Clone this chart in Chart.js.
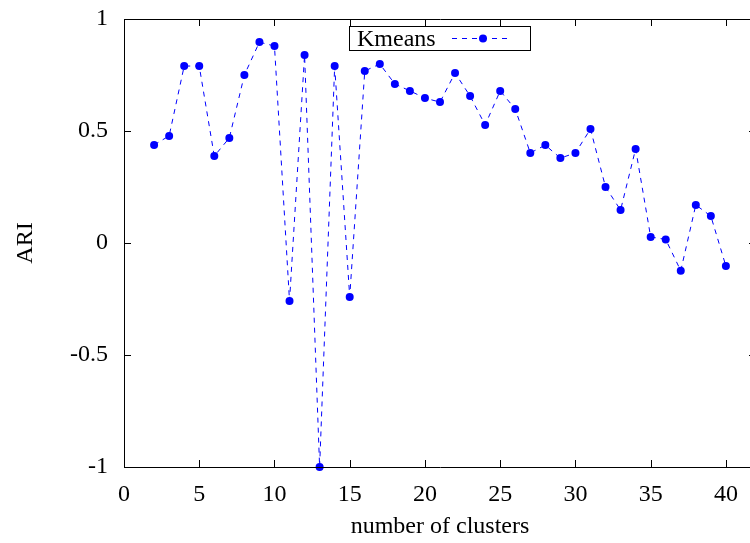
<!DOCTYPE html>
<html>
<head>
<meta charset="utf-8">
<script src="https://cdn.jsdelivr.net/npm/chart.js@4/dist/chart.umd.min.js"></script>
<style>
  html, body { margin: 0; padding: 0; background: #fff; overflow: hidden; }
  #wrap { width: 770px; height: 543px; }
</style>
</head>
<body>
<div id="wrap"><canvas id="c" width="770" height="543"></canvas></div>
<script>
// Number of clusters evaluated
const clusters = [2, 3, 4, 5, 6, 7, 8, 9, 10, 11, 12, 13, 14, 15, 16, 17, 18, 19, 20, 21,
                  22, 23, 24, 25, 26, 27, 28, 29, 30, 31, 32, 33, 34, 35, 36, 37, 38, 39, 40];
// Adjusted Rand Index for k-means at each cluster count
const kmeansARI = [0.438, 0.478, 0.79, 0.79, 0.388, 0.469, 0.75, 0.897, 0.879, -0.259,
                   0.839, -1.0, 0.79, -0.241, 0.768, 0.799, 0.71, 0.679, 0.647, 0.629,
                   0.759, 0.656, 0.527, 0.679, 0.598, 0.402, 0.437, 0.379, 0.402, 0.509,
                   0.25, 0.147, 0.42, 0.027, 0.016, -0.124, 0.17, 0.12, -0.103];
const xTicks = [0, 5, 10, 15, 20, 25, 30, 35, 40];
const yTicks = [-1, -0.5, 0, 0.5, 1];

const SERIF = '"Liberation Serif", "DejaVu Serif", serif';
const BLUE = '#0000ff';
const FONT_SIZE = 24;

// Frame with inward ticks on all four sides, drawn from the chart's scales
const framePlugin = {
  id: 'frame',
  afterDraw(chart) {
    const { ctx, chartArea: a, scales } = chart;
    ctx.save();
    ctx.strokeStyle = '#000';
    ctx.lineWidth = 1;
    ctx.beginPath();
    ctx.rect(Math.round(a.left) + 0.5, Math.round(a.top) + 0.5,
             Math.round(a.right - a.left), Math.round(a.bottom - a.top));
    ctx.stroke();
    const tl = 7;
    ctx.beginPath();
    xTicks.forEach(v => {
      const x = Math.round(scales.x.getPixelForValue(v)) + 0.5;
      ctx.moveTo(x, a.bottom); ctx.lineTo(x, a.bottom - tl);
      ctx.moveTo(x, a.top); ctx.lineTo(x, a.top + tl);
    });
    yTicks.forEach(v => {
      const y = Math.round(scales.y.getPixelForValue(v)) + 0.5;
      ctx.moveTo(a.left, y); ctx.lineTo(a.left + tl, y);
      ctx.moveTo(a.right, y); ctx.lineTo(a.right - tl, y);
    });
    ctx.stroke();
    ctx.restore();
  }
};

// Key box: title first, then the line sample with its point
const keyPlugin = {
  id: 'key',
  afterDraw(chart) {
    const { ctx } = chart;
    const ds = chart.data.datasets[0];
    ctx.save();
    ctx.fillStyle = '#fff';
    ctx.fillRect(349.5, 26.5, 181, 24);
    ctx.strokeStyle = '#000';
    ctx.lineWidth = 1;
    ctx.strokeRect(349.5, 26.5, 181, 24);
    ctx.fillStyle = '#000';
    ctx.font = FONT_SIZE + 'px ' + SERIF;
    ctx.textBaseline = 'alphabetic';
    ctx.textAlign = 'left';
    ctx.fillText(ds.label, 357, 46);
    ctx.strokeStyle = BLUE;
    ctx.setLineDash([5, 5]);
    ctx.beginPath();
    ctx.moveTo(452, 38.5); ctx.lineTo(512, 38.5);
    ctx.stroke();
    ctx.setLineDash([]);
    ctx.fillStyle = BLUE;
    ctx.beginPath();
    ctx.arc(483, 38.5, 4, 0, Math.PI * 2);
    ctx.fill();
    ctx.restore();
  }
};

new Chart(document.getElementById('c'), {
  type: 'line',
  data: {
    datasets: [{
      label: 'Kmeans',
      data: clusters.map((k, i) => ({ x: k, y: kmeansARI[i] })),
      borderColor: BLUE,
      backgroundColor: BLUE,
      borderWidth: 1,
      borderDash: [5, 5],
      pointRadius: 4,
      pointBorderWidth: 0,
      pointBackgroundColor: BLUE,
      tension: 0,
      fill: false,
      clip: false
    }]
  },
  options: {
    responsive: false,
    animation: false,
    devicePixelRatio: 1,
    layout: { padding: { left: 0, top: 19, right: 14, bottom: 0 } },
    plugins: { legend: { display: false }, tooltip: { enabled: false } },
    scales: {
      x: {
        type: 'linear',
        min: 0,
        max: 42,
        afterBuildTicks: s => { s.ticks = xTicks.map(v => ({ value: v })); },
        afterFit: s => { s.height = 76; s.paddingLeft = 0; s.paddingRight = 0; },
        grid: { display: false, drawTicks: false },
        border: { display: false },
        ticks: { color: '#000', font: { family: SERIF, size: FONT_SIZE }, padding: 13, maxRotation: 0 },
        title: { display: true, text: 'number of clusters', color: '#000',
                 font: { family: SERIF, size: FONT_SIZE }, padding: { top: 0, bottom: 2 } }
      },
      y: {
        type: 'linear',
        min: -1,
        max: 1,
        afterBuildTicks: s => { s.ticks = yTicks.map(v => ({ value: v })); },
        afterFit: s => { s.width = 124; s.paddingTop = 0; s.paddingBottom = 0; },
        grid: { display: false, drawTicks: false },
        border: { display: false },
        ticks: { color: '#000', font: { family: SERIF, size: FONT_SIZE }, padding: 16,
                 callback: v => String(v) },
        title: { display: true, text: 'ARI', color: '#000',
                 font: { family: SERIF, size: FONT_SIZE }, padding: { top: 11, bottom: 0 } }
      }
    }
  },
  plugins: [framePlugin, keyPlugin]
});
</script>
</body>
</html>
